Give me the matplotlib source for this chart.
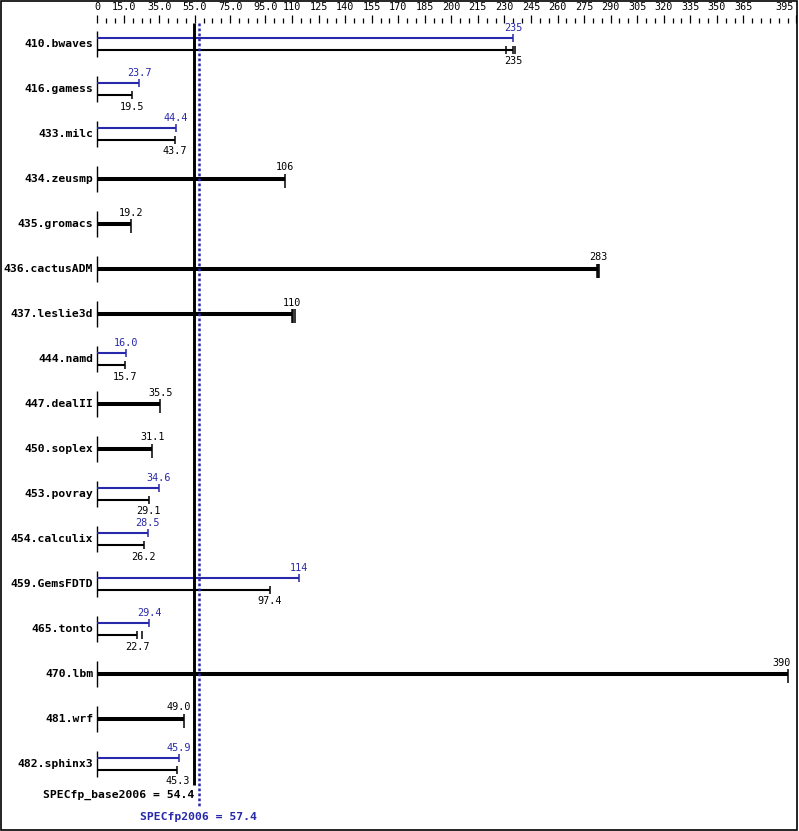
import matplotlib
matplotlib.use("Agg")
import matplotlib.pyplot as plt
from matplotlib import transforms
from matplotlib.patches import Rectangle

# benchmark results (SPECfp2006)
benchmarks = ["410.bwaves", "416.gamess", "433.milc", "434.zeusmp", "435.gromacs",
              "436.cactusADM", "437.leslie3d", "444.namd", "447.dealII", "450.soplex",
              "453.povray", "454.calculix", "459.GemsFDTD", "465.tonto", "470.lbm",
              "481.wrf", "482.sphinx3"]
base = [235, 19.5, 43.7, 106, 19.2, 283, 110, 15.7, 35.5, 31.1,
        29.1, 26.2, 97.4, 22.7, 390, 49.0, 45.3]
peak = [235, 23.7, 44.4, None, None, None, None, 16.0, None, None,
        34.6, 28.5, 114, 29.4, None, None, 45.9]
# other run values shown as extra marks on the base bars
base_runs = {"410.bwaves": [230.8, 235.9], "436.cactusADM": [282.4, 283.5],
             "437.leslie3d": [110.8, 111.9], "465.tonto": [25.4]}

base_mean = 54.4
peak_mean = 57.4

tick_values = [0, 15, 35, 55, 75, 95] + list(range(110, 366, 15)) + [395]
tick_labels = ["0", "15.0", "35.0", "55.0", "75.0", "95.0"] + [str(v) for v in range(110, 366, 15)] + ["395"]

BLUE = "#2828aa"
MONO = "DejaVu Sans Mono"


def fmt(v):
    return f"{v:.0f}" if v >= 100 else f"{v:.1f}"


W, H = 799, 831
fig = plt.figure(figsize=(W / 100, H / 100), dpi=100)
ax = fig.add_axes([0, 0, 1, 1])
ax.axis("off")
# x: data units, 0 at 97.3px, 1.77 px per unit; y: pixels from top
x0, scale = 97.3, 1.77
ax.set_xlim(-x0 / scale, (W - x0) / scale)
ax.set_ylim(H, 0)


def off(dx):
    return transforms.offset_copy(ax.transData, fig=fig, x=dx, y=0, units="dots")


def value_text(v, y, color):
    # keep labels off the right border and off the base mean line
    half = 3.0 * len(fmt(v)) / scale
    if v > 380:
        ax.text(v, y, fmt(v), ha="right", va="center", fontsize=7.3, family=MONO,
                color=color, transform=off(3))
    elif v < base_mean < v + half + 2:
        ax.text(base_mean, y, fmt(v), ha="right", va="center", fontsize=7.3,
                family=MONO, color=color, transform=off(-3))
    else:
        ax.text(v, y, fmt(v), ha="center", va="center", fontsize=7.3, family=MONO,
                color=color)


# top scale
for v in range(0, 396, 5):
    tall = v in tick_values
    ax.vlines(v, 15 if tall else 18, 23, color="black", lw=0.9)
for v, lab in zip(tick_values, tick_labels):
    if v == tick_values[-1]:
        ax.text(v, 7, lab, ha="right", va="center", fontsize=7.3, family=MONO,
                transform=off(-3))
    else:
        ax.text(v, 7, lab, ha="center", va="center", fontsize=7.3, family=MONO)

for i, name in enumerate(benchmarks):
    c = 44 + 45 * i
    ax.text(0, c, name, ha="right", va="center", fontsize=8.2, family=MONO,
            weight="bold", transform=off(-4))
    ax.vlines(0, c - 13, c + 13, color="black", lw=1.0)
    b, p = base[i], peak[i]
    if p is None:
        ax.hlines(c, 0, b, color="black", lw=2.9)
        ax.vlines(b, c - 5.5, c + 8.5, color="black", lw=1.1)
        for r in base_runs.get(name, []):
            ax.vlines(r, c - 5.5, c + 8.5, color="black", lw=1.1)
        value_text(b, c - 11.5, "black")
    else:
        yp, yb = c - 6, c + 6
        ax.hlines(yp, 0, p, color=BLUE, lw=1.5)
        ax.vlines(p, yp - 4, yp + 4, color=BLUE, lw=1.1)
        ax.hlines(yb, 0, b, color="black", lw=1.5)
        ax.vlines(b, yb - 4, yb + 4, color="black", lw=1.1)
        for r in base_runs.get(name, []):
            ax.vlines(r, yb - 4, yb + 4, color="black", lw=1.1)
        value_text(p, c - 16, BLUE)
        value_text(b, c + 17.5, "black")

# geometric means
ax.vlines(base_mean, 23, 785, color="black", lw=2.1, zorder=5)
ax.vlines(peak_mean, 23, 807, color=BLUE, lw=1.8, linestyles=(0, (1.1, 0.9)), zorder=5)
ax.text(base_mean, 795, f"SPECfp_base2006 = {base_mean}", ha="right", va="center",
        fontsize=8.2, family=MONO, weight="bold", transform=off(1))
ax.text(peak_mean, 817.5, f"SPECfp2006 = {peak_mean}", ha="center", va="center",
        fontsize=8.2, family=MONO, weight="bold", color=BLUE)

# frame around the picture
fig.patches.append(Rectangle((0.8 / W, 1.5 / H), 796.5 / W, 829 / H, fill=False,
                             edgecolor="black", lw=1.2, transform=fig.transFigure))

fig.savefig("out.png", dpi=100)
